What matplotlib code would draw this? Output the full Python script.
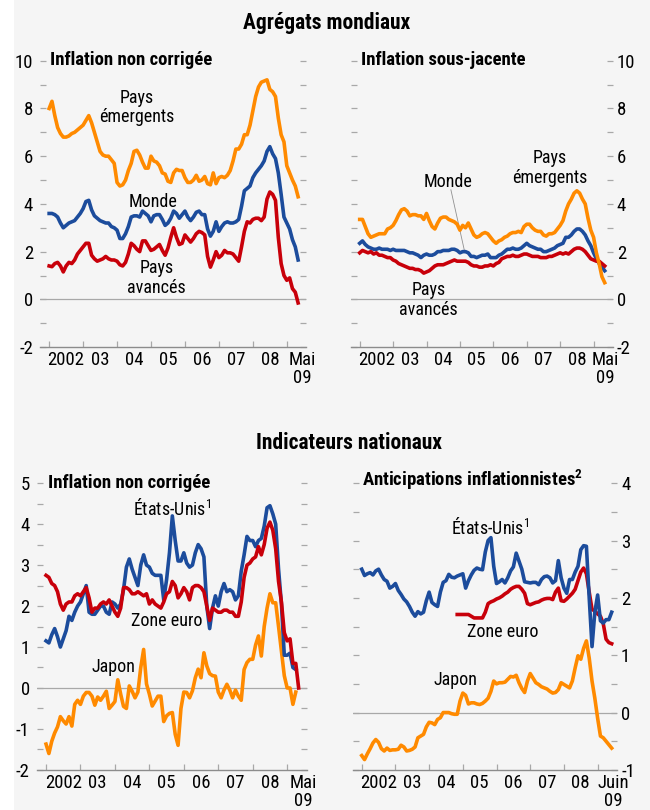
import numpy as np
import matplotlib
matplotlib.use('Agg')
import matplotlib.pyplot as plt
from matplotlib.patches import Rectangle
from matplotlib.ticker import MultipleLocator, FixedLocator, NullFormatter

# ---------- data (monthly, starting Jan 2002 unless noted) ----------
# Agrégats mondiaux - inflation non corrigée
hl_emerg = [8.0, 8.3, 7.7, 7.2, 6.95, 6.8, 6.8, 6.85, 6.95, 7.0, 7.1, 7.2,
            7.3, 7.5, 7.7, 7.4, 7.0, 6.6, 6.2, 6.05, 6.0, 6.0, 5.85, 5.7,
            4.9, 4.75, 4.8, 5.0, 5.4, 5.7, 6.2, 6.25, 6.05, 5.75, 5.5, 5.5,
            6.0, 5.8, 5.75, 5.6, 5.3, 5.25, 4.95, 4.9, 5.3, 5.45, 5.4, 5.4,
            5.1, 4.9, 4.9, 5.0, 5.2, 4.95, 5.0, 5.15, 4.85, 4.8, 5.3, 4.85,
            5.1, 5.15, 5.1, 5.2, 5.4, 5.8, 6.3, 6.3, 6.5, 6.9, 6.9, 7.3,
            7.9, 8.5, 8.9, 9.1, 9.15, 9.2, 8.8, 8.7, 8.5, 7.6, 6.9, 6.6,
            5.6, 5.3, 5.0, 4.75, 4.3]
hl_world = [3.6, 3.6, 3.55, 3.45, 3.2, 3.0, 3.1, 3.2, 3.25, 3.3, 3.45, 3.6,
            3.8, 4.1, 4.15, 3.75, 3.5, 3.4, 3.3, 3.25, 3.2, 3.2, 3.05, 3.0,
            2.9, 2.55, 2.55, 2.75, 3.05, 3.45, 3.5, 3.5, 3.45, 3.7, 3.6, 3.5,
            3.25, 3.5, 3.55, 3.55, 3.35, 3.1, 3.2, 3.4, 3.7, 3.6, 3.4, 3.55,
            3.7, 3.45, 3.3, 3.45, 3.65, 3.7, 3.55, 3.55, 2.95, 2.65, 2.85, 3.25,
            2.85, 3.05, 3.2, 3.25, 3.2, 3.2, 3.25, 3.35, 3.9, 4.55, 4.65, 4.75,
            5.1, 5.3, 5.45, 5.6, 5.8, 6.2, 6.4, 6.1, 5.9, 5.3, 4.4, 3.45,
            3.2, 2.95, 2.5, 2.2, 1.65]
hl_adv = [1.4, 1.37, 1.5, 1.55, 1.4, 1.15, 1.4, 1.55, 1.5, 1.65, 1.9, 2.05,
          2.2, 2.35, 2.35, 1.85, 1.7, 1.6, 1.65, 1.7, 1.8, 1.7, 1.65, 1.65,
          1.6, 1.45, 1.4, 1.55, 1.9, 2.35, 2.25, 2.1, 2.0, 2.45, 2.45, 2.25,
          2.05, 2.1, 2.2, 2.3, 2.05, 1.85, 2.15, 2.6, 3.0, 2.6, 2.3, 2.35,
          2.7, 2.55, 2.4, 2.55, 2.75, 2.85, 2.8, 2.7, 1.8, 1.35, 1.65, 2.0,
          1.75, 1.85, 2.05, 1.95, 1.95, 1.9, 1.75, 1.6, 2.2, 2.85, 3.25, 3.2,
          3.35, 3.4, 3.4, 3.3, 3.45, 4.2, 4.5, 4.4, 4.15, 2.6, 1.5, 1.0,
          0.8, 0.9, 0.45, 0.3, -0.15]

# Agrégats mondiaux - inflation sous-jacente
core_emerg = [3.35, 3.35, 3.05, 2.75, 2.6, 2.65, 2.7, 2.75, 2.75, 2.75, 2.95, 3.0,
              3.1, 3.3, 3.55, 3.75, 3.8, 3.7, 3.5, 3.55, 3.55, 3.5, 3.5, 3.35,
              3.6, 3.3, 3.05, 2.95, 3.2, 3.4, 3.45, 3.45, 3.35, 3.3, 3.25, 3.15,
              2.9, 3.1, 3.0, 3.2, 2.95, 2.7, 2.6, 2.65, 2.75, 2.8, 2.75, 2.6,
              2.45, 2.35, 2.45, 2.5, 2.6, 2.65, 2.75, 2.8, 2.8, 2.85, 2.8, 3.05,
              3.15, 3.15, 3.0, 2.9, 2.85, 2.85, 2.7, 2.65, 2.75, 2.75, 2.8, 2.95,
              3.1, 3.3, 3.7, 4.0, 4.2, 4.45, 4.55, 4.45, 4.2, 4.0, 3.4, 2.9,
              2.6, 1.95, 1.5, 0.95, 0.7]
core_world = [2.35, 2.45, 2.3, 2.2, 2.15, 2.1, 2.1, 2.15, 2.1, 2.1, 2.1, 2.05,
              2.1, 2.05, 2.05, 2.05, 2.05, 2.0, 1.95, 1.95, 1.9, 1.85, 1.75, 1.85,
              1.9, 1.85, 1.85, 1.9, 2.0, 2.0, 2.05, 2.05, 2.05, 2.1, 2.1, 2.05,
              1.95, 2.0, 2.0, 1.95, 1.8, 1.8, 1.75, 1.8, 1.85, 1.85, 1.9, 1.75,
              1.75, 1.75, 1.85, 1.9, 2.0, 2.1, 2.1, 2.15, 2.1, 2.1, 2.15, 2.25,
              2.35, 2.25, 2.2, 2.15, 2.1, 2.1, 2.0, 2.0, 2.05, 2.1, 2.15, 2.25,
              2.3, 2.35, 2.6, 2.6, 2.7, 2.85, 2.95, 2.95, 2.85, 2.7, 2.45, 2.25,
              1.95, 1.7, 1.5, 1.35, 1.2]
core_adv = [1.95, 2.05, 2.0, 1.95, 2.0, 1.9, 1.95, 1.85, 1.85, 1.8, 1.75, 1.75,
            1.65, 1.6, 1.5, 1.45, 1.4, 1.35, 1.3, 1.3, 1.25, 1.25, 1.2, 1.1,
            1.15, 1.2, 1.3, 1.4, 1.45, 1.45, 1.45, 1.5, 1.55, 1.6, 1.65, 1.6,
            1.6, 1.6, 1.6, 1.55, 1.45, 1.4, 1.4, 1.35, 1.35, 1.4, 1.4, 1.45,
            1.4, 1.5, 1.55, 1.7, 1.75, 1.8, 1.8, 1.85, 1.8, 1.8, 1.85, 1.9,
            1.9, 1.85, 1.8, 1.8, 1.8, 1.75, 1.75, 1.75, 1.8, 1.8, 1.85, 1.9,
            1.95, 1.9, 1.95, 1.9, 2.0, 2.1, 2.15, 2.15, 2.1, 2.0, 1.85, 1.7,
            1.65, 1.6, 1.6, 1.5, 1.4]

# Indicateurs nationaux - inflation non corrigée
nat_us = [1.15, 1.1, 1.3, 1.45, 1.25, 1.0, 1.2, 1.4, 1.75, 1.65, 1.85, 2.0,
          2.1, 2.3, 2.5, 1.85, 1.8, 1.8, 1.9, 2.0, 2.0, 1.85, 1.8, 2.1,
          2.05, 1.95, 2.05, 2.4, 2.95, 3.15, 2.9, 2.7, 2.5, 3.0, 3.25, 3.0,
          2.95, 2.8, 2.75, 2.75, 2.75, 2.15, 2.65, 3.3, 4.2, 3.6, 3.1, 3.1,
          3.3, 3.05, 2.95, 3.0, 3.3, 3.5, 3.4, 3.2, 2.0, 1.45, 1.95, 2.25,
          2.0, 2.35, 2.55, 2.35, 2.4, 2.35, 2.15, 2.25, 2.85, 3.25, 3.7, 3.6,
          3.6, 3.45, 3.6, 3.65, 3.95, 4.4, 4.45, 4.25, 4.0, 2.9, 2.05, 0.8,
          0.8, 0.85, 0.5, 0.45]
nat_ea = [2.75, 2.7, 2.55, 2.5, 2.35, 2.05, 1.9, 2.05, 2.1, 2.1, 2.25, 2.3,
          2.25, 2.35, 2.45, 2.2, 1.85, 1.95, 1.95, 2.05, 2.1, 2.05, 2.15, 2.0,
          1.85, 1.75, 1.95, 2.45, 2.45, 2.4, 2.3, 2.3, 2.35, 2.3, 2.25, 2.3,
          2.05, 2.15, 2.05, 2.0, 1.95, 2.1, 2.3, 2.35, 2.6, 2.5, 2.2, 2.3,
          2.45, 2.35, 2.15, 2.45, 2.5, 2.5, 2.45, 2.35, 2.0, 1.65, 1.95, 1.9,
          1.85, 1.85, 1.9, 1.9, 1.85, 1.85, 1.75, 1.75, 2.1, 2.7, 3.0, 3.05,
          3.15, 3.2, 3.45, 3.25, 3.5, 3.9, 4.05, 3.85, 3.4, 2.6, 2.1, 1.35,
          1.15, 1.2, 0.6, 0.6, 0.0]
nat_jp = [-1.37, -1.6, -1.3, -1.1, -0.95, -0.7, -0.8, -0.88, -0.7, -0.93, -0.4, -0.3,
          -0.4, -0.2, -0.11, -0.11, -0.2, -0.42, -0.22, -0.3, -0.2, -0.08, -0.5, -0.42,
          -0.33, 0.2, -0.15, -0.45, -0.5, 0.05, -0.08, -0.24, -0.1, 0.5, 0.94, 0.1,
          -0.15, -0.44, -0.32, -0.2, -0.2, -0.82, -0.68, -0.62, -0.6, -1.13, -1.4, -0.5,
          -0.1, -0.11, -0.24, -0.07, 0.25, 0.46, 0.25, 0.86, 0.54, 0.35, 0.3, 0.29,
          -0.1, -0.24, -0.05, 0.09, -0.05, -0.24, -0.05, -0.2, -0.3, 0.45, 0.62, 0.7,
          0.7, 1.05, 1.27, 0.78, 1.5, 1.95, 2.3, 2.08, 2.08, 1.5, 0.9, 0.3,
          0.0, 0.0, -0.4, -0.1]

# Indicateurs nationaux - anticipations inflationnistes (jusqu'à juin 2009)
exp_us = [2.5, 2.39, 2.42, 2.44, 2.4, 2.47, 2.5, 2.4, 2.32, 2.29, 2.17, 2.2,
          2.25, 2.13, 2.06, 1.98, 1.93, 1.85, 1.75, 1.68, 1.76, 1.72, 1.75, 1.95,
          2.1, 1.92, 1.88, 1.85, 2.1, 2.27, 2.3, 2.41, 2.36, 2.35, 2.38, 2.4,
          2.42, 2.17, 2.3, 2.4, 2.48, 2.52, 2.5, 2.49, 2.8, 3.0, 3.05, 2.55,
          2.25, 2.28, 2.32, 2.26, 2.35, 2.47, 2.54, 2.78, 2.64, 2.5, 2.28, 2.27,
          2.26, 2.27, 2.27, 2.23, 2.32, 2.37, 2.38, 2.35, 2.26, 2.3, 2.65, 2.35,
          2.17, 2.08, 2.32, 2.32, 2.45, 2.55, 2.84, 2.91, 2.9, 2.0, 1.15, 1.75,
          2.05, 1.6, 1.56, 1.62, 1.62, 1.75]
exp_ea_start = 34  # Nov 2004
exp_ea = [1.71, 1.71, 1.71, 1.71, 1.71, 1.68, 1.65, 1.65, 1.65, 1.65, 1.75, 1.9,
          1.93, 1.95, 1.98, 2.0, 2.03, 2.07, 2.1, 2.15, 2.18, 2.2, 2.2, 2.15,
          2.08, 1.9, 1.88, 1.9, 1.92, 1.93, 1.96, 1.98, 1.99, 1.99, 1.97, 2.1,
          2.17, 1.95, 1.94, 1.98, 2.03, 2.08, 2.15, 2.3, 2.45, 2.52, 2.42, 2.1,
          1.8, 1.77, 1.72, 1.68, 1.55, 1.28, 1.22, 1.2]
exp_jp = [-0.75, -0.82, -0.72, -0.63, -0.53, -0.47, -0.52, -0.63, -0.67, -0.62, -0.66, -0.65,
          -0.65, -0.64, -0.57, -0.6, -0.67, -0.66, -0.64, -0.6, -0.44, -0.41, -0.38, -0.25,
          -0.17, -0.18, -0.21, -0.12, -0.09, 0.0, 0.0, 0.0, -0.02, -0.03, -0.03, 0.2,
          0.34, 0.3, 0.15, 0.17, 0.17, 0.15, 0.14, 0.16, 0.2, 0.25, 0.37, 0.55,
          0.5, 0.52, 0.52, 0.53, 0.58, 0.63, 0.62, 0.65, 0.52, 0.42, 0.35, 0.55,
          0.68, 0.6, 0.52, 0.49, 0.45, 0.43, 0.41, 0.37, 0.34, 0.35, 0.4, 0.52,
          0.49, 0.46, 0.43, 0.55, 0.78, 0.99, 0.93, 1.12, 1.25, 0.95, 0.55, 0.25,
          -0.1, -0.41, -0.44, -0.5, -0.56, -0.62]

year_labels = ['2002', '03', '04', '05', '06', '07', '08']

ORANGE = '#ff8a00'
BLUE = '#1c4c9c'
RED = '#c8000a'
GRID = '#a8a8a8'

plt.rcParams['font.family'] = ['Roboto Condensed', 'DejaVu Sans']
plt.rcParams['mathtext.fontset'] = 'custom'
plt.rcParams['mathtext.default'] = 'regular'

FS_TICK = 13.5   # axis tick labels
FS = 13          # series labels
FS_T = 13.5      # panel titles
FS_H = 15.5      # section headings


def months(vals, start=0):
    return 2002 + (start + np.arange(len(vals))) / 12.0


def setup(ax, ylim, major, minor, right, last_label, last_pos):
    ax.set_facecolor('none')
    ax.set_xlim(2001.73, 2009.57)
    ax.set_ylim(*ylim)
    for s in ['top', 'left', 'right']:
        ax.spines[s].set_visible(False)
    ax.spines['bottom'].set_color('#8c8c8c')
    ax.spines['bottom'].set_linewidth(1.0)
    ax.axhline(0, color=GRID, lw=0.9, zorder=1)
    ax.yaxis.set_major_locator(MultipleLocator(major))
    ax.yaxis.set_minor_locator(MultipleLocator(minor))
    ax.tick_params(axis='y', which='both', direction='in', left=True, right=True,
                   labelleft=not right, labelright=right, color=GRID, width=0.9,
                   length=4, labelsize=FS_TICK, pad=3 if right else 5)
    ax.yaxis.set_major_formatter(plt.FuncFormatter(lambda v, p: '%d' % round(v)))
    # year boundary ticks
    ax.xaxis.set_major_locator(FixedLocator(np.arange(2002, 2010)))
    ax.xaxis.set_major_formatter(NullFormatter())
    ax.tick_params(axis='x', which='major', direction='in', length=4, color=GRID, width=0.9)
    # labels centred within each year
    pos = list(np.arange(2002.5, 2009.0, 1.0)) + [last_pos]
    ax.set_xticks(pos, year_labels + [last_label], minor=True)
    ax.tick_params(axis='x', which='minor', length=0, labelsize=FS_TICK, pad=3)
    for t in ax.get_xticklabels(minor=True):
        t.set_linespacing(1.0)


fig = plt.figure(figsize=(6.5, 8.1), dpi=100)
fig.patch.set_facecolor('white')
fig.patches.append(Rectangle((0.021, 0), 0.979, 1, transform=fig.transFigure,
                             facecolor='#f5f5f5', edgecolor='none', zorder=-10))

lw = 2.6

# top-left
ax1 = fig.add_axes([0.0615, 0.5715, 0.4095, 0.3535])
setup(ax1, (-2, 10), 2, 1, False, 'Mai\n09', 2009.45)
ax1.plot(months(hl_emerg), hl_emerg, color=ORANGE, lw=lw, zorder=3)
ax1.plot(months(hl_world), hl_world, color=BLUE, lw=lw, zorder=3)
ax1.plot(months(hl_adv), hl_adv, color=RED, lw=lw, zorder=3)
ax1.text(2002.04, 10.05, 'Inflation non corrigée', fontsize=FS_T, fontweight='bold', va='center')
ax1.text(2004.58, 8.05, 'Pays\némergents', fontsize=FS, ha='center', va='center', linespacing=1.1)
ax1.text(2005.07, 4.08, 'Monde', fontsize=FS, ha='center', va='center')
ax1.text(2005.17, 0.9, 'Pays\navancés', fontsize=FS, ha='center', va='center', linespacing=1.1)

# top-right
ax2 = fig.add_axes([0.5395, 0.5715, 0.4030, 0.3535])
setup(ax2, (-2, 10), 2, 1, True, 'Mai\n09', 2009.36)
ax2.plot(months(core_world), core_world, color=BLUE, lw=lw, zorder=3)
ax2.plot(months(core_adv), core_adv, color=RED, lw=lw, zorder=3)
ax2.plot(months(core_emerg), core_emerg, color=ORANGE, lw=lw, zorder=4)
ax2.text(2002.05, 10.05, 'Inflation sous-jacente', fontsize=FS_T, fontweight='bold', va='center')
ax2.text(2004.63, 4.93, 'Monde', fontsize=FS, ha='center', va='center')
ax2.plot([2004.73, 2005.13], [4.59, 2.07], color='#909090', lw=0.6, zorder=2)
ax2.text(2007.7, 5.5, 'Pays\némergents', fontsize=FS, ha='center', va='center', linespacing=1.1)
ax2.text(2004.05, -0.03, 'Pays\navancés', fontsize=FS, ha='center', va='center', linespacing=1.1)

# bottom-left
ax3 = fig.add_axes([0.0565, 0.0495, 0.4155, 0.3540])
setup(ax3, (-2, 5), 1, 0.5, False, 'Mai\n09', 2009.48)
ax3.plot(months(nat_jp), nat_jp, color=ORANGE, lw=lw, zorder=3)
ax3.plot(months(nat_us), nat_us, color=BLUE, lw=lw, zorder=3)
ax3.plot(months(nat_ea), nat_ea, color=RED, lw=lw, zorder=4)
ax3.text(2002.06, 5.0, 'Inflation non corrigée', fontsize=FS_T, fontweight='bold', va='center')
ax3.text(2005.65, 4.39, 'États-Unis$^{1}$', fontsize=FS, ha='center', va='center')
ax3.text(2005.5, 1.64, 'Zone euro', fontsize=FS, ha='center', va='center')
ax3.text(2003.96, 0.51, 'Japon', fontsize=FS, ha='center', va='center')

# bottom-right
ax4 = fig.add_axes([0.5425, 0.0495, 0.4065, 0.3540])
setup(ax4, (-1, 4), 1, 0.5, True, 'Juin\n09', 2009.47)
ax4.plot(months(exp_jp), exp_jp, color=ORANGE, lw=lw, zorder=3)
ax4.plot(months(exp_ea, exp_ea_start), exp_ea, color=RED, lw=lw, zorder=3)
ax4.plot(months(exp_us), exp_us, color=BLUE, lw=lw, zorder=4)
ax4.text(2002.02, 4.05, 'Anticipations inflationnistes$^{2}$', fontsize=FS_T,
         fontweight='bold', va='center')
ax4.text(2005.82, 3.23, 'États-Unis$^{1}$', fontsize=FS, ha='center', va='center')
ax4.text(2006.17, 1.41, 'Zone euro', fontsize=FS, ha='center', va='center')
ax4.text(2004.78, 0.57, 'Japon', fontsize=FS, ha='center', va='center')

fig.text(0.502, 0.972, 'Agrégats mondiaux', fontsize=FS_H, fontweight='bold',
         ha='center', va='center')
fig.text(0.537, 0.453, 'Indicateurs nationaux', fontsize=FS_H, fontweight='bold',
         ha='center', va='center')

fig.savefig('out.png', dpi=100, facecolor=fig.get_facecolor())
